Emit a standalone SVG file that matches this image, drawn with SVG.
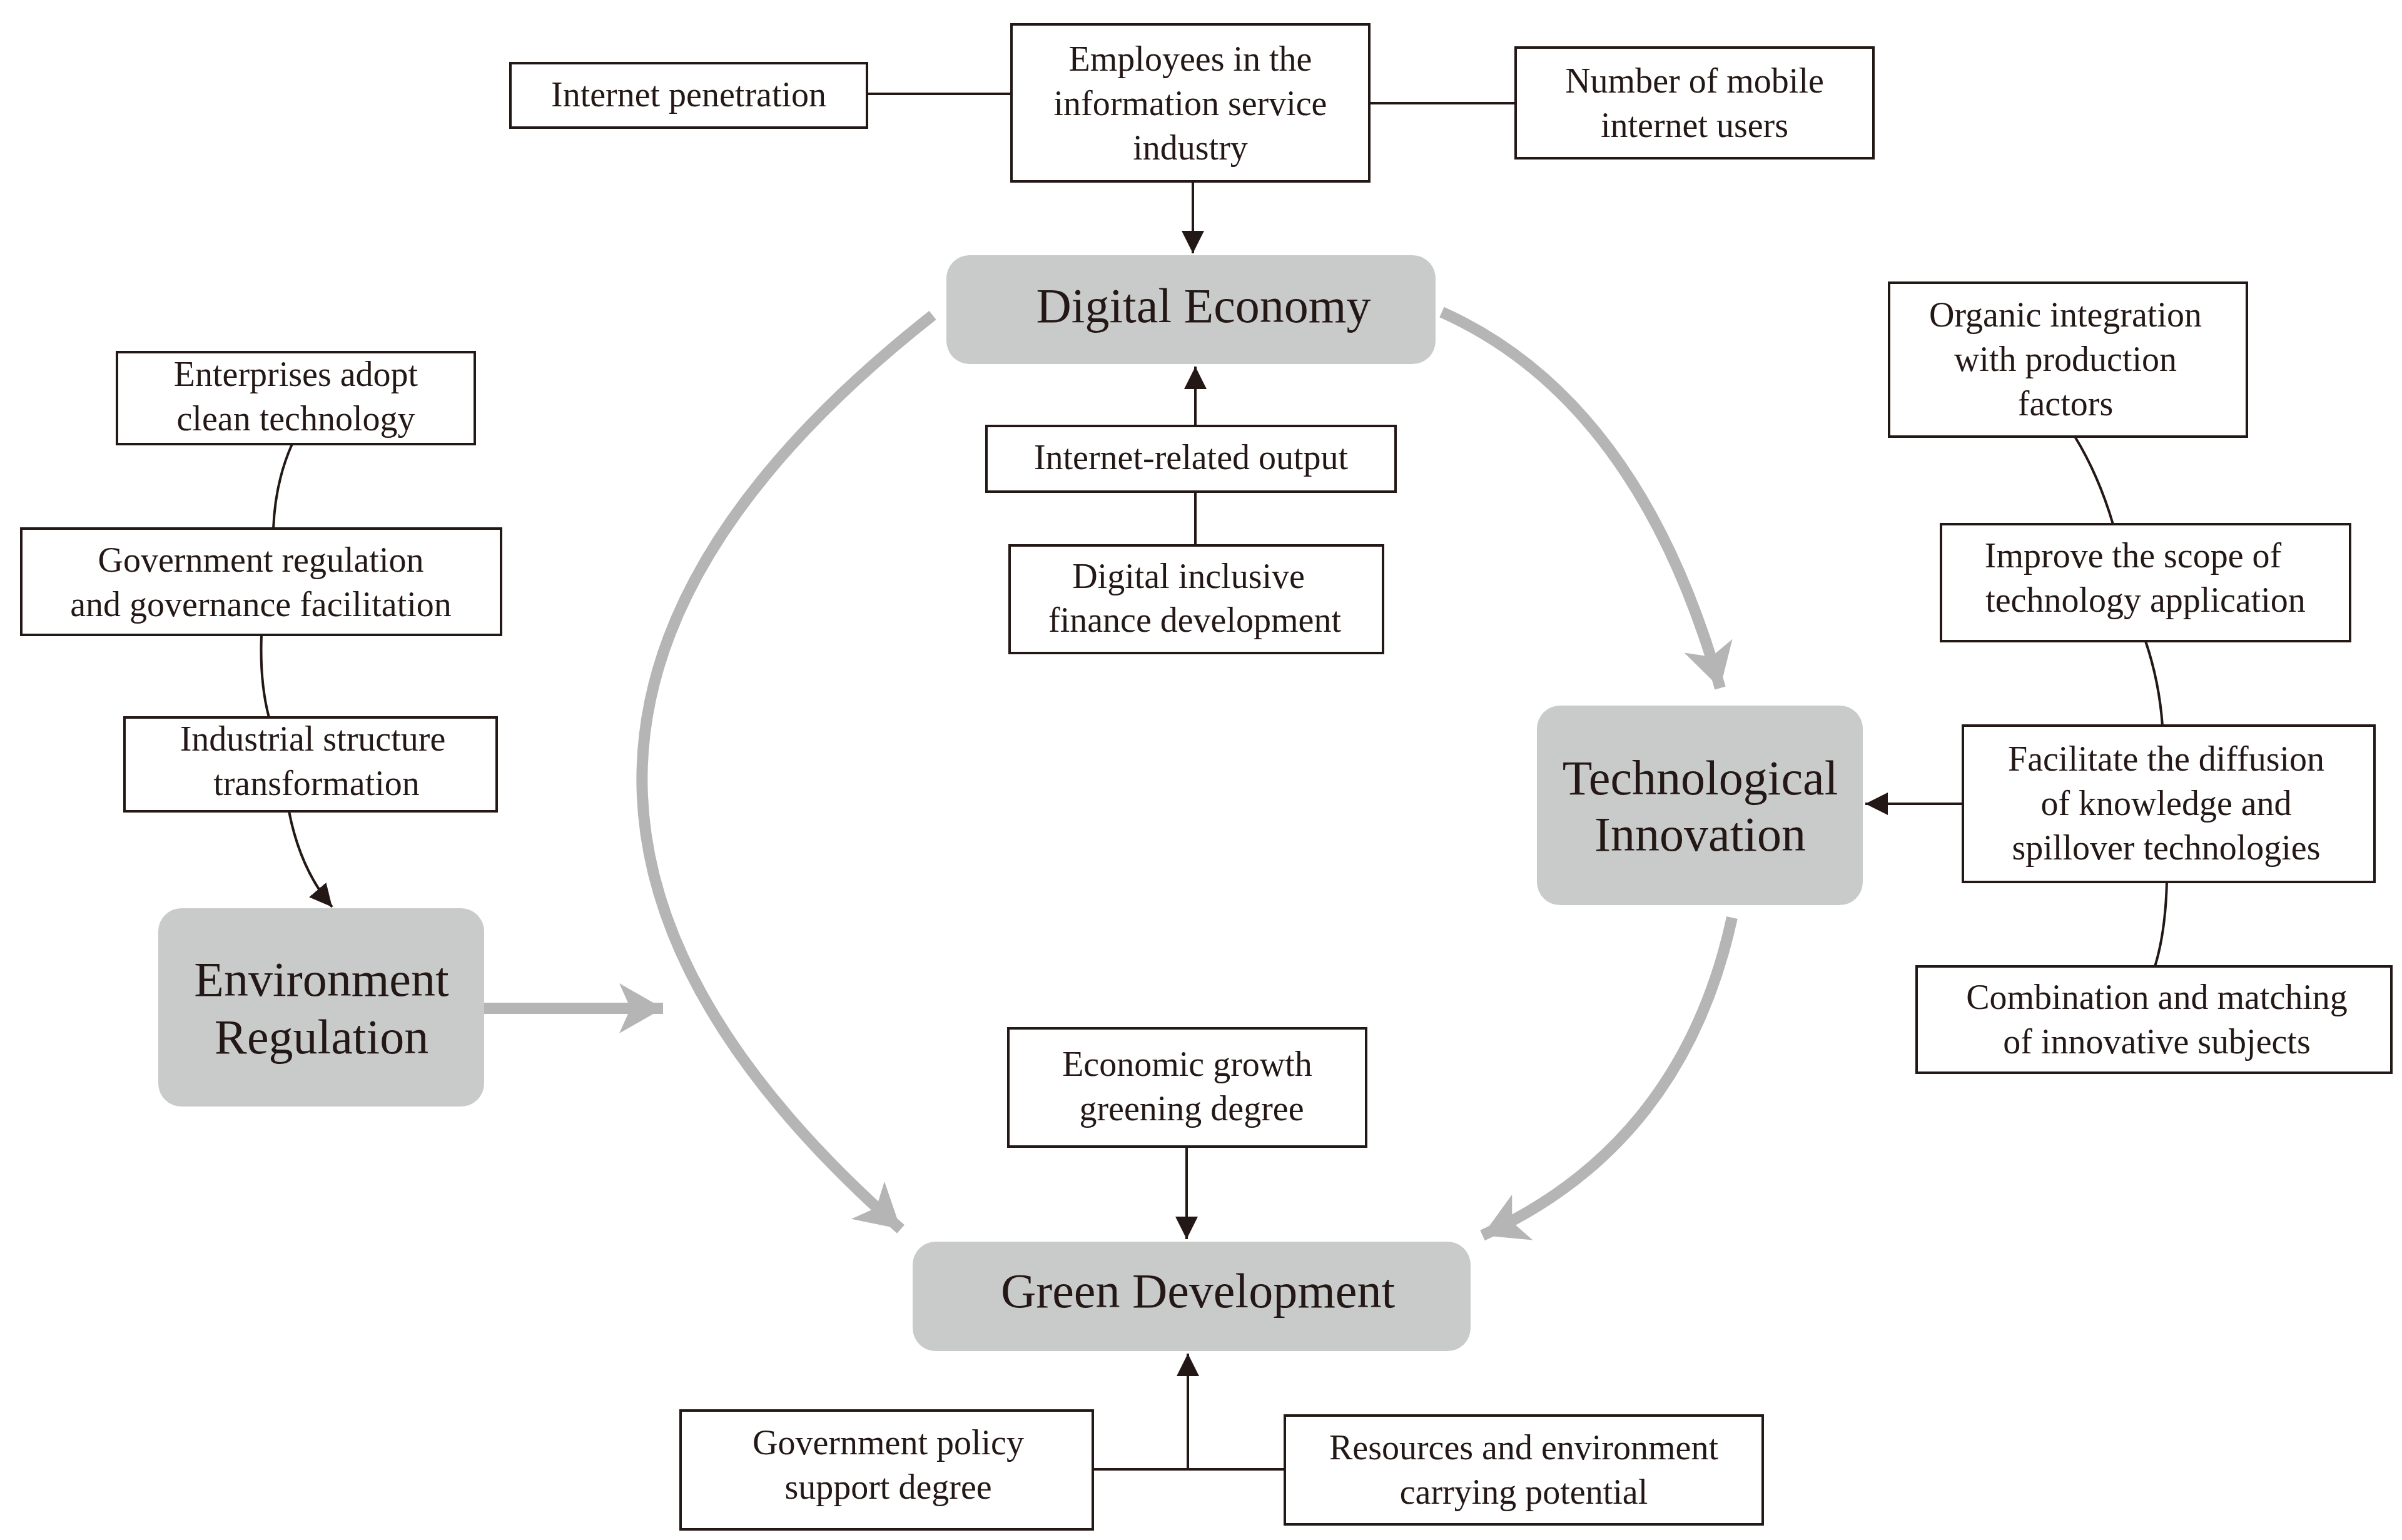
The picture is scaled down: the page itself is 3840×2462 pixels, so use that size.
<svg xmlns="http://www.w3.org/2000/svg" width="3840" height="2462" viewBox="0 0 3840 2462">
<defs>
<style>
.b{fill:#fff;stroke:#231815;stroke-width:4}
.g{fill:#c9caca}
.t{font-family:"Liberation Serif",serif;font-size:56px;fill:#231815;text-anchor:middle}
.T{font-family:"Liberation Serif",serif;font-size:78px;fill:#231815;text-anchor:middle}
.l{fill:none;stroke:#231815;stroke-width:4}
.a{fill:none;stroke:#b5b5b6;stroke-width:18}
</style>
<marker id="k" markerUnits="userSpaceOnUse" markerWidth="40" markerHeight="40" refX="36" refY="18" orient="auto"><path d="M0,0L36,18L0,36z" fill="#231815"/></marker>
<marker id="G" markerUnits="userSpaceOnUse" markerWidth="90" markerHeight="90" refX="70" refY="40" orient="auto"><path d="M0,0L70,40L0,80L18,40z" fill="#b5b5b6"/></marker>
</defs>
<rect width="3840" height="2462" fill="#fff"/>
<g id="connectors">
<path class="l" d="M1386,150H1617M2189,165H2423"/>
<path class="l" d="M1907,290V405" marker-end="url(#k)"/>
<path class="l" d="M1911,681V586" marker-end="url(#k)"/>
<path class="l" d="M1911,786V872"/>
<path class="l" d="M467,710Q440,770 437,845M418,1015Q415,1090 430,1147"/>
<path class="l" d="M462,1297Q480,1390 531,1450" marker-end="url(#k)"/>
<path class="l" d="M3317,698Q3355,760 3378,838M3430,1025Q3452,1090 3457,1160M3464,1410Q3462,1490 3445,1545"/>
<path class="l" d="M3138,1285H2982" marker-end="url(#k)"/>
<path class="l" d="M1897,1833V1981" marker-end="url(#k)"/>
<path class="l" d="M1747,2349H2054M1899,2349V2164" marker-end="url(#k)"/>
<path class="a" d="M774,1612H1060" marker-end="url(#G)"/>
<path class="a" d="M1491,504Q588,1215 1440,1965" marker-end="url(#G)"/>
<path class="a" d="M2305,499Q2620,640 2750,1100" marker-end="url(#G)"/>
<path class="a" d="M2769,1467Q2690,1830 2370,1975" marker-end="url(#G)"/>
</g>
<g id="n1"><rect class="b" x="816" y="101" width="570" height="103"/><text class="t" x="1101" y="170">Internet penetration</text></g>
<g id="n2"><rect class="b" x="1617" y="39" width="572" height="251"/><text class="t" x="1903" y="113">Employees in the</text><text class="t" x="1903" y="184">information service</text><text class="t" x="1903" y="255">industry</text></g>
<g id="n3"><rect class="b" x="2423" y="76" width="572" height="177"/><text class="t" x="2709" y="148">Number of mobile</text><text class="t" x="2709" y="219">internet users</text></g>
<g id="de"><rect class="g" x="1513" y="408" width="782" height="174" rx="37"/><text class="T" x="1924" y="515">Digital Economy</text></g>
<g id="n4"><rect class="b" x="1577" y="681" width="654" height="105"/><text class="t" x="1904" y="750">Internet-related output</text></g>
<g id="n5"><rect class="b" x="1614" y="872" width="597" height="172"/><text class="t" x="1900" y="940">Digital inclusive</text><text class="t" x="1910" y="1010">finance development</text></g>
<g id="n6"><rect class="b" x="187" y="563" width="572" height="147"/><text class="t" x="473" y="617">Enterprises adopt</text><text class="t" x="473" y="688">clean technology</text></g>
<g id="n7"><rect class="b" x="34" y="845" width="767" height="170"/><text class="t" x="417" y="914">Government regulation</text><text class="t" x="417" y="985">and governance facilitation</text></g>
<g id="n8"><rect class="b" x="199" y="1147" width="595" height="150"/><text class="t" x="500" y="1200">Industrial structure</text><text class="t" x="506" y="1271">transformation</text></g>
<g id="er"><rect class="g" x="253" y="1452" width="521" height="317" rx="37"/><text class="T" x="514" y="1592">Environment</text><text class="T" x="514" y="1684">Regulation</text></g>
<g id="ti"><rect class="g" x="2457" y="1128" width="521" height="319" rx="37"/><text class="T" x="2718" y="1270">Technological</text><text class="T" x="2718" y="1360">Innovation</text></g>
<g id="n9"><rect class="b" x="3020" y="452" width="572" height="246"/><text class="t" x="3302" y="522">Organic integration</text><text class="t" x="3302" y="593">with production</text><text class="t" x="3302" y="664">factors</text></g>
<g id="n10"><rect class="b" x="3103" y="838" width="654" height="187"/><text class="t" x="3410" y="907">Improve the scope of</text><text class="t" x="3430" y="978">technology application</text></g>
<g id="n11"><rect class="b" x="3138" y="1160" width="658" height="250"/><text class="t" x="3463" y="1232">Facilitate the diffusion</text><text class="t" x="3463" y="1303">of knowledge and</text><text class="t" x="3463" y="1374">spillover technologies</text></g>
<g id="n12"><rect class="b" x="3064" y="1545" width="759" height="170"/><text class="t" x="3448" y="1613">Combination and matching</text><text class="t" x="3448" y="1684">of innovative subjects</text></g>
<g id="n13"><rect class="b" x="1612" y="1644" width="572" height="189"/><text class="t" x="1898" y="1720">Economic growth</text><text class="t" x="1905" y="1791">greening degree</text></g>
<g id="gd"><rect class="g" x="1459" y="1985" width="892" height="175" rx="37"/><text class="T" x="1915" y="2090">Green Development</text></g>
<g id="n14"><rect class="b" x="1088" y="2255" width="659" height="190"/><text class="t" x="1420" y="2325">Government policy</text><text class="t" x="1420" y="2396">support degree</text></g>
<g id="n15"><rect class="b" x="2054" y="2263" width="764" height="174"/><text class="t" x="2436" y="2333">Resources and environment</text><text class="t" x="2436" y="2404">carrying potential</text></g>
</svg>
